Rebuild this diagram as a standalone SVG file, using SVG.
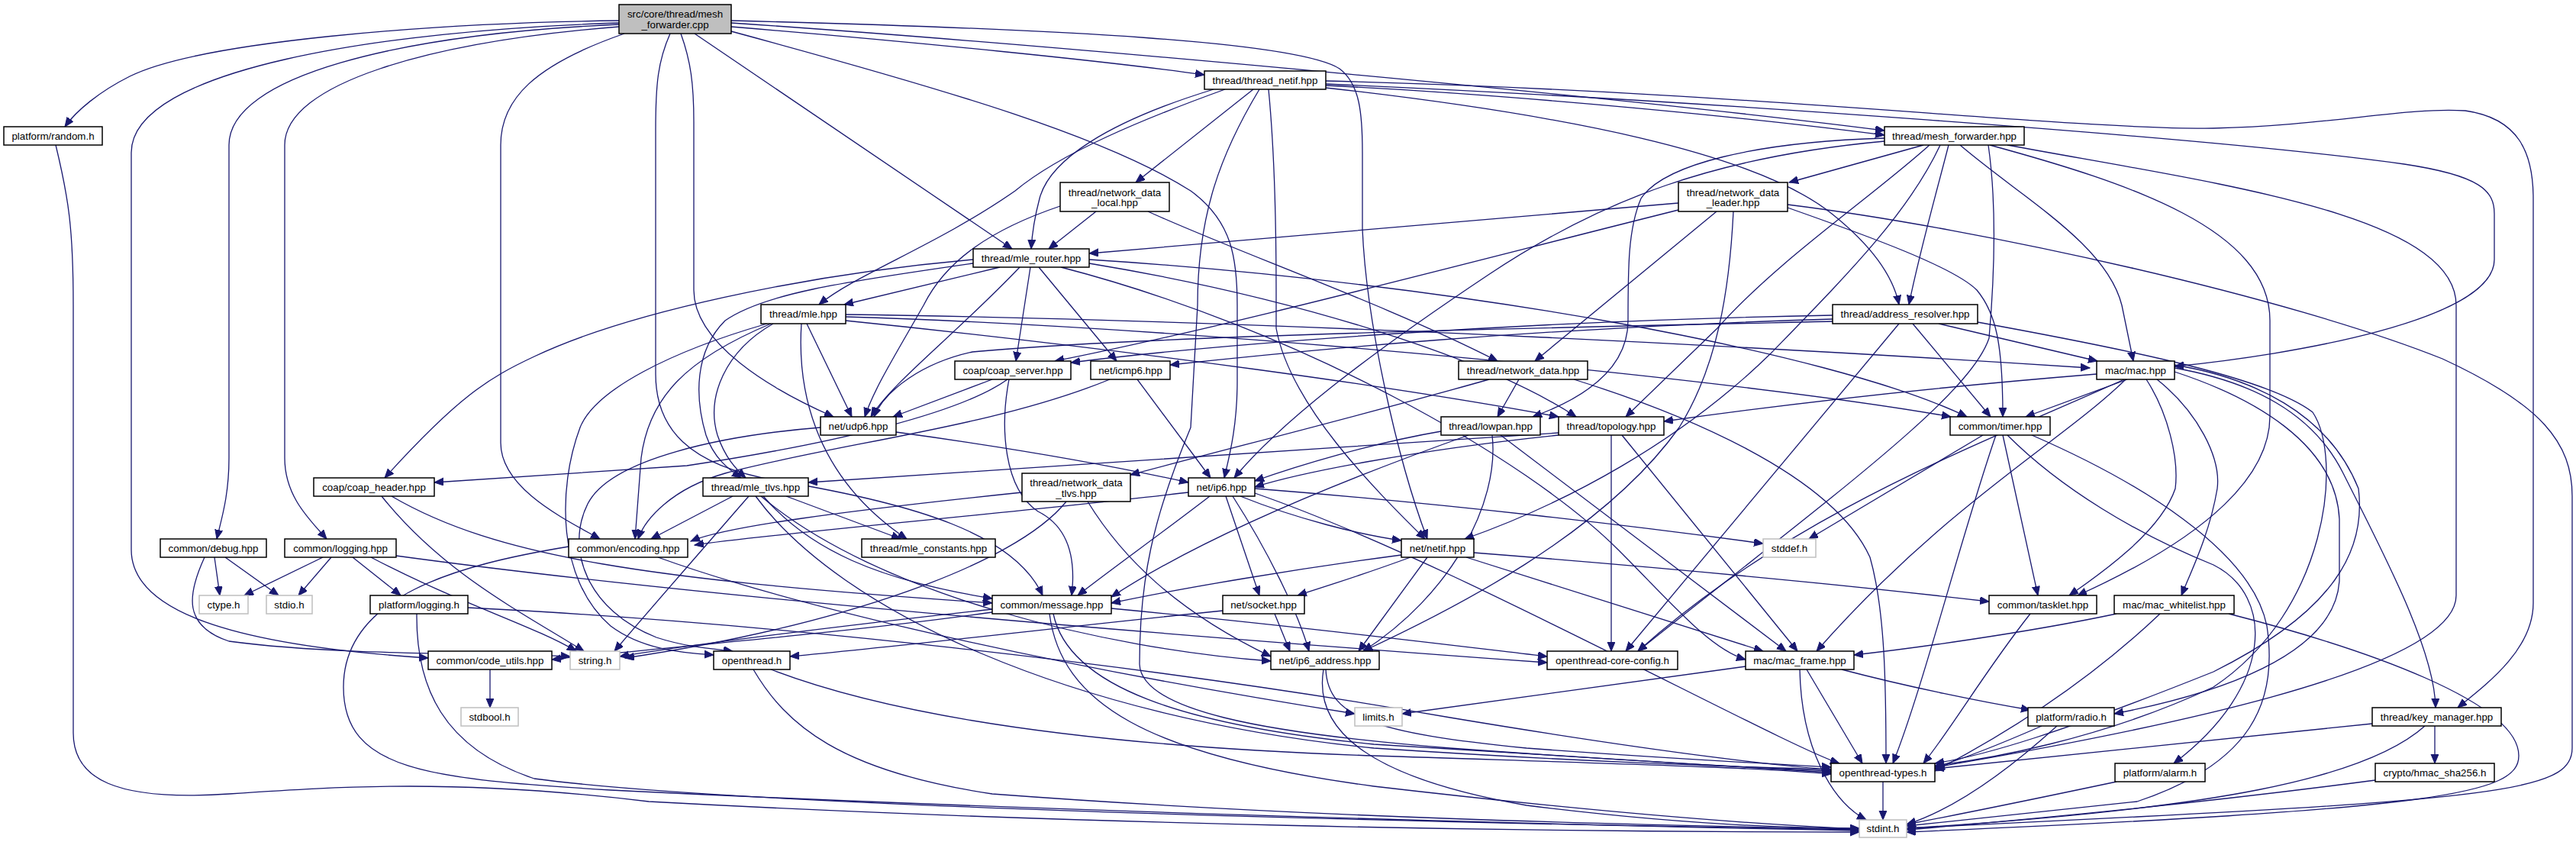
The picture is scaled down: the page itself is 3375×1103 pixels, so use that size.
<svg xmlns="http://www.w3.org/2000/svg" width="3375" height="1103" viewBox="0 0 3375 1103">
<style>
.n rect{fill:#ffffff;stroke:#000000;stroke-width:1.5}
.n.s rect{stroke:#bfbfbf}
.n.r rect{fill:#bfbfbf}
.n text{font-family:"Liberation Sans",Arial,Helvetica,sans-serif;font-size:13.33px;fill:#000000;text-anchor:middle}
.e path{fill:none;stroke:#191970;stroke-width:1.3;marker-end:url(#a)}
</style>
<defs>
<marker id="a" markerUnits="userSpaceOnUse" markerWidth="14" markerHeight="11" refX="12" refY="5" orient="auto"><path d="M0,0 L12,5 L0,10 z" fill="#191970" stroke="#191970" stroke-width="1"/></marker>
</defs>
<rect x="0" y="0" width="3375" height="1103" fill="#ffffff"/>
<g id="edges" class="e">
<path d="M811,27 C560,30 260,55 170,100 C130,120 100,145 85,166"/>
<path d="M811,30 C500,40 172,90 172,200 L172,720 C172,800 300,845 561,862"/>
<path d="M811,32 C520,45 300,100 300,190 L300,600 C300,650 290,680 284,706"/>
<path d="M811,35 C560,55 373,110 373,190 L373,600 C373,650 405,680 428,706"/>
<path d="M818,44 C700,85 656,130 656,190 L656,580 C656,640 740,680 786,706"/>
<path d="M878,44 C862,80 859,110 859,170 L859,490 C859,560 900,610 1020,630 C1200,660 1330,700 1366,780"/>
<path d="M892,44 C905,80 909,110 909,160 L909,380 C909,450 1010,510 1092,546"/>
<path d="M910,44 L1326,326"/>
<path d="M958,41 C1250,120 1450,180 1560,250 C1615,290 1621,340 1621,400 L1621,500 C1621,560 1610,600 1604,626"/>
<path d="M958,35 C1200,55 1450,80 1578,98"/>
<path d="M958,30 C1400,60 2150,130 2469,171"/>
<path d="M958,27 C1400,38 1700,55 1755,90 C1782,110 1785,150 1785,200 L1785,300 C1790,420 1830,600 1870,706"/>
<path d="M1605,117 C1500,155 1390,200 1330,250 C1230,320 1120,360 1073,399"/>
<path d="M1590,117 C1450,160 1375,210 1362,260 C1354,290 1352,310 1351,326"/>
<path d="M1642,117 L1488,239"/>
<path d="M1650,117 C1600,200 1569,280 1569,400 L1560,560 C1510,680 1493,760 1493,870 C1495,930 1650,960 1900,980 C2150,998 2300,1006 2399,1010"/>
<path d="M1662,117 C1670,200 1672,300 1672,380 L1672,430 C1690,530 1800,640 1867,706"/>
<path d="M1737,112 C2000,125 2300,155 2469,177"/>
<path d="M1737,106 C2300,120 2700,170 2900,168 C3050,165 3150,140 3230,145 C3300,155 3319,200 3319,260 L3319,790 C3319,850 3260,895 3220,927"/>
<path d="M1737,110 C2200,130 2900,180 3150,215 C3250,230 3268,250 3268,280 L3268,340 C3268,420 3000,465 2849,480"/>
<path d="M1737,115 C2050,150 2300,200 2400,280 C2450,320 2480,360 2488,399"/>
<path d="M2469,181 C2300,186 2180,215 2150,260 C2133,300 2133,350 2133,420 C2133,480 2080,520 2008,546"/>
<path d="M2469,185 C2250,205 2100,260 1950,360 C1800,460 1680,550 1617,626"/>
<path d="M2520,190 L2344,239"/>
<path d="M2528,190 C2450,260 2330,340 2250,430 L2130,546"/>
<path d="M2553,190 C2535,260 2515,330 2501,399"/>
<path d="M2568,190 C2650,260 2760,320 2780,400 L2795,473"/>
<path d="M2605,190 C2615,260 2615,340 2606,443 C2580,520 2400,650 2146,853"/>
<path d="M2607,190 C2790,240 2974,300 2974,420 L2974,545 C2974,620 2900,700 2722,780"/>
<path d="M2630,190 C2900,240 3218,280 3218,400 L3218,780 C3218,880 2800,960 2536,1005"/>
<path d="M2542,190 C2500,280 2420,360 2320,463 C2200,580 2050,660 1919,706"/>
<path d="M1436,277 L1374,326"/>
<path d="M1389,270 C1300,300 1240,340 1210,400 C1170,470 1145,510 1133,546"/>
<path d="M1504,277 C1620,330 1820,400 1962,473"/>
<path d="M2199,266 C1900,290 1600,318 1427,332"/>
<path d="M2199,275 C1900,350 1600,430 1382,473"/>
<path d="M2249,277 L2011,473"/>
<path d="M2271,277 C2266,380 2250,480 2200,560 C2100,700 1900,800 1786,853"/>
<path d="M2342,268 C2600,300 3000,390 3200,470 C3330,530 3370,580 3370,650 L3370,980 C3370,1030 3300,1045 2800,1070 L2498,1085"/>
<path d="M2342,272 C2450,310 2560,350 2590,380 C2615,410 2624,450 2624,546"/>
<path d="M1310,350 L1106,399"/>
<path d="M1275,340 C1050,360 820,410 700,467 C640,495 600,520 504,626"/>
<path d="M1275,345 C1100,370 1000,385 950,420 C910,460 910,520 925,570 C935,600 955,615 971,626"/>
<path d="M1336,350 C1250,440 1170,500 1141,546"/>
<path d="M1350,350 L1331,473"/>
<path d="M1361,350 L1463,473"/>
<path d="M1427,340 C1900,370 2400,460 2577,546"/>
<path d="M1427,345 C1700,390 1950,470 2065,546"/>
<path d="M1390,350 C1700,430 2000,600 2120,720 C2190,790 2240,850 2287,864"/>
<path d="M1010,424 C900,470 850,520 840,600 L832,706"/>
<path d="M1013,424 C950,460 925,520 940,570 C950,600 965,615 977,626"/>
<path d="M1050,424 C1045,500 1060,620 1188,706"/>
<path d="M1057,424 L1116,546"/>
<path d="M1005,424 C880,460 780,510 760,560 C730,640 730,760 800,820 C840,850 890,855 935,858"/>
<path d="M1108,412 C1700,420 2400,460 2738,482"/>
<path d="M1108,415 C1600,430 2300,500 2556,546"/>
<path d="M1108,420 C1500,460 1850,510 2042,546"/>
<path d="M1300,497 L1170,546"/>
<path d="M1320,497 C1260,540 1100,580 900,610 L569,632"/>
<path d="M1322,497 C1310,560 1315,640 1360,670 C1400,690 1410,730 1404,780"/>
<path d="M1454,497 C1300,560 1100,580 950,620 C880,640 845,680 836,706"/>
<path d="M1490,497 L1586,626"/>
<path d="M1174,566 C1350,590 1480,615 1557,632"/>
<path d="M1075,560 C950,570 800,600 770,660 C740,720 770,800 860,835 C900,848 935,850 960,853"/>
<path d="M960,650 L853,706"/>
<path d="M981,650 C920,720 850,800 805,853"/>
<path d="M1000,650 C1060,720 1150,760 1300,784"/>
<path d="M1030,650 L1180,706"/>
<path d="M990,650 C1100,800 1400,940 1800,980 C2100,1000 2300,1005 2399,1008"/>
<path d="M997,650 C1150,780 1450,850 1665,866"/>
<path d="M1339,645 C1100,670 950,690 905,709"/>
<path d="M1397,657 C1330,740 1100,820 819,862"/>
<path d="M1425,657 C1470,730 1540,800 1665,860"/>
<path d="M1557,645 C1300,675 1000,700 910,714"/>
<path d="M1585,650 C1520,700 1450,750 1412,780"/>
<path d="M1606,650 L1650,780"/>
<path d="M1615,650 C1660,720 1700,800 1715,853"/>
<path d="M1625,650 C1700,680 1780,700 1836,708"/>
<path d="M1644,640 C1900,660 2150,690 2310,712"/>
<path d="M1644,646 C1800,700 2000,800 2200,900 C2300,950 2380,990 2410,1000"/>
<path d="M1836,727 C1700,745 1550,770 1456,790"/>
<path d="M1848,730 C1780,755 1730,770 1700,780"/>
<path d="M1870,730 L1780,853"/>
<path d="M1921,730 L2310,853"/>
<path d="M1931,724 C2200,745 2450,770 2606,788"/>
<path d="M1602,800 C1400,820 1200,845 1035,860"/>
<path d="M1670,804 L1690,853"/>
<path d="M1300,798 C1100,820 900,845 812,860"/>
<path d="M1300,802 C1100,830 850,850 723,864"/>
<path d="M1456,797 C1700,820 1900,845 2027,860"/>
<path d="M1380,804 C1400,900 1550,950 1800,975 C2100,995 2300,1005 2399,1012"/>
<path d="M1375,804 C1390,920 1500,990 1800,1030 C2100,1065 2300,1080 2436,1086"/>
<path d="M862,730 C1000,780 1300,860 1775,935"/>
<path d="M745,716 C600,740 450,780 450,900 C450,1010 560,1020 800,1035 C1300,1060 2000,1080 2436,1088"/>
<path d="M987,877 C1030,950 1100,1010 1300,1040 C1700,1070 2100,1080 2436,1086"/>
<path d="M1010,877 C1200,950 1500,980 1800,990 C2100,1000 2300,1005 2399,1014"/>
<path d="M642,877 L642,927"/>
<path d="M423,730 L320,780"/>
<path d="M434,730 L391,780"/>
<path d="M462,730 L525,780"/>
<path d="M486,730 C600,790 700,820 755,853"/>
<path d="M519,728 C900,780 1500,830 2027,868"/>
<path d="M281,730 L288,780"/>
<path d="M295,730 L365,780"/>
<path d="M268,730 C245,780 240,820 300,840 C450,860 650,855 747,860"/>
<path d="M613,796 C1000,815 1500,870 1900,940 C2200,990 2350,1005 2399,1008"/>
<path d="M546,804 C545,900 580,980 700,1020 C1000,1060 2000,1080 2436,1087"/>
<path d="M500,650 C580,750 680,800 765,853"/>
<path d="M513,650 C650,730 850,760 1300,790"/>
<path d="M73,190 C90,260 96,300 96,400 L96,960 C96,1020 150,1050 300,1040 C450,1030 600,1020 850,1050 C1400,1080 2000,1090 2436,1090"/>
<path d="M1888,565 C1800,580 1700,610 1644,630"/>
<path d="M1955,570 C1965,660 1900,780 1786,853"/>
<path d="M1966,570 L2340,853"/>
<path d="M1924,570 C1700,650 1550,720 1456,782"/>
<path d="M2042,567 C1700,590 1300,615 1059,632"/>
<path d="M2042,570 C1850,590 1700,620 1644,638"/>
<path d="M2111,570 L2111,853"/>
<path d="M2125,570 L2355,853"/>
<path d="M2747,490 C2500,510 2300,535 2180,552"/>
<path d="M2787,497 L2654,546"/>
<path d="M2812,497 C2840,540 2855,600 2850,640 C2830,700 2740,760 2711,780"/>
<path d="M2826,497 C2880,540 2910,600 2905,640 C2895,700 2870,750 2858,780"/>
<path d="M2849,482 C2950,500 3030,540 3070,620 C3120,720 3190,850 3191,927"/>
<path d="M2849,487 C2950,520 3060,580 3065,680 L3065,760 C3060,860 2900,910 2770,935"/>
<path d="M2849,478 C2950,495 3050,540 3090,640 C3100,720 3060,800 2900,880 C2700,960 2600,990 2535,1000"/>
<path d="M2785,497 C2700,580 2550,660 2380,853"/>
<path d="M2783,497 C2600,580 2350,670 2146,853"/>
<path d="M2598,570 L2370,706"/>
<path d="M2615,570 C2570,700 2520,900 2480,1000"/>
<path d="M2624,570 L2670,780"/>
<path d="M2630,570 C2700,640 2800,700 2900,740 C2980,780 2980,900 2848,1000"/>
<path d="M2662,570 C2800,630 2950,720 2970,820 C2985,920 2950,1000 2800,1050 L2498,1082"/>
<path d="M2660,804 C2600,880 2560,950 2520,1000"/>
<path d="M2773,804 C2650,830 2500,850 2429,858"/>
<path d="M2830,804 C2750,880 2650,950 2535,1010"/>
<path d="M2920,804 C3100,850 3300,920 3300,990 C3300,1040 3200,1060 2498,1090"/>
<path d="M2287,873 C2100,900 1950,920 1837,935"/>
<path d="M2358,877 C2360,980 2400,1050 2445,1074"/>
<path d="M2367,877 L2440,1000"/>
<path d="M2413,877 C2500,900 2600,920 2660,930"/>
<path d="M1737,877 C1740,940 1800,960 2000,980 C2200,995 2350,1002 2399,1005"/>
<path d="M1734,877 C1720,960 1800,1020 2000,1055 C2200,1080 2350,1085 2436,1085"/>
<path d="M2675,951 C2620,975 2570,995 2535,1005"/>
<path d="M2695,951 C2630,1010 2560,1060 2498,1080"/>
<path d="M3108,948 C2900,970 2700,990 2535,1007"/>
<path d="M3177,951 C3100,1020 2900,1060 2498,1085"/>
<path d="M3190,951 L3190,1000"/>
<path d="M2773,1024 C2650,1050 2550,1070 2498,1080"/>
<path d="M3112,1022 C2900,1050 2700,1070 2498,1087"/>
<path d="M2467,1024 L2467,1074"/>
<path d="M2401,413 C2000,420 1600,450 1403,475"/>
<path d="M2401,418 C2000,430 1700,460 1533,478"/>
<path d="M2401,421 C2000,430 1500,440 1274,461 C1210,475 1160,510 1145,546"/>
<path d="M2540,424 L2748,473"/>
<path d="M2506,424 L2608,546"/>
<path d="M2488,424 L2130,853"/>
<path d="M2591,422 C2800,460 2973,496 3030,540 C3070,600 3050,800 2900,900 C2750,970 2600,995 2535,1003"/>
<path d="M1951,497 C1800,540 1600,590 1481,622"/>
<path d="M1990,497 L1962,546"/>
<path d="M2062,497 C2200,540 2400,620 2450,730 C2470,800 2471,900 2471,1000"/>
</g>
<g id="src" class="n r"><rect x="811" y="6" width="147" height="38"/><text x="884.5" y="23">src/core/thread/mesh</text><text x="884.5" y="37">_forwarder.cpp</text></g>
<g id="random" class="n"><rect x="5" y="166" width="129" height="24"/><text x="69.5" y="182.6">platform/random.h</text></g>
<g id="thread_netif" class="n"><rect x="1578" y="93" width="159" height="24"/><text x="1657.5" y="109.6">thread/thread_netif.hpp</text></g>
<g id="mesh_forwarder" class="n"><rect x="2469" y="166" width="183" height="24"/><text x="2560.5" y="182.6">thread/mesh_forwarder.hpp</text></g>
<g id="nd_local" class="n"><rect x="1389" y="239" width="143" height="38"/><text x="1460.5" y="256.5">thread/network_data</text><text x="1460.5" y="270">_local.hpp</text></g>
<g id="nd_leader" class="n"><rect x="2199" y="239" width="143" height="38"/><text x="2270.5" y="256.5">thread/network_data</text><text x="2270.5" y="270">_leader.hpp</text></g>
<g id="mle_router" class="n"><rect x="1275" y="326" width="152" height="24"/><text x="1351" y="342.6">thread/mle_router.hpp</text></g>
<g id="address_resolver" class="n"><rect x="2401" y="399" width="190" height="25"/><text x="2496" y="416.1">thread/address_resolver.hpp</text></g>
<g id="mle" class="n"><rect x="997" y="399" width="111" height="25"/><text x="1052.5" y="416.1">thread/mle.hpp</text></g>
<g id="coap_server" class="n"><rect x="1251" y="473" width="152" height="24"/><text x="1327" y="489.6">coap/coap_server.hpp</text></g>
<g id="icmp6" class="n"><rect x="1429" y="473" width="104" height="24"/><text x="1481" y="489.6">net/icmp6.hpp</text></g>
<g id="network_data" class="n"><rect x="1911" y="473" width="169" height="24"/><text x="1995.5" y="489.6">thread/network_data.hpp</text></g>
<g id="mac" class="n"><rect x="2747" y="473" width="102" height="24"/><text x="2798" y="489.6">mac/mac.hpp</text></g>
<g id="udp6" class="n"><rect x="1075" y="546" width="99" height="24"/><text x="1124.5" y="562.6">net/udp6.hpp</text></g>
<g id="lowpan" class="n"><rect x="1888" y="546" width="130" height="24"/><text x="1953" y="562.6">thread/lowpan.hpp</text></g>
<g id="topology" class="n"><rect x="2042" y="546" width="138" height="24"/><text x="2111" y="562.6">thread/topology.hpp</text></g>
<g id="timer" class="n"><rect x="2555" y="546" width="131" height="24"/><text x="2620.5" y="562.6">common/timer.hpp</text></g>
<g id="coap_header" class="n"><rect x="411" y="626" width="158" height="24"/><text x="490" y="642.6">coap/coap_header.hpp</text></g>
<g id="mle_tlvs" class="n"><rect x="921" y="626" width="138" height="24"/><text x="990" y="642.6">thread/mle_tlvs.hpp</text></g>
<g id="nd_tlvs" class="n"><rect x="1339" y="620" width="142" height="37"/><text x="1410" y="637">thread/network_data</text><text x="1410" y="650.5">_tlvs.hpp</text></g>
<g id="ip6" class="n"><rect x="1557" y="626" width="87" height="24"/><text x="1600.5" y="642.6">net/ip6.hpp</text></g>
<g id="debug" class="n"><rect x="210" y="706" width="139" height="24"/><text x="279.5" y="722.6">common/debug.hpp</text></g>
<g id="logging" class="n"><rect x="373" y="706" width="146" height="24"/><text x="446" y="722.6">common/logging.hpp</text></g>
<g id="encoding" class="n"><rect x="745" y="706" width="156" height="24"/><text x="823" y="722.6">common/encoding.hpp</text></g>
<g id="mle_constants" class="n"><rect x="1129" y="706" width="175" height="24"/><text x="1216.5" y="722.6">thread/mle_constants.hpp</text></g>
<g id="netif" class="n"><rect x="1836" y="706" width="95" height="24"/><text x="1883.5" y="722.6">net/netif.hpp</text></g>
<g id="stddef" class="n s"><rect x="2310" y="706" width="69" height="24"/><text x="2344.5" y="722.6">stddef.h</text></g>
<g id="tasklet" class="n"><rect x="2606" y="780" width="141" height="24"/><text x="2676.5" y="796.6">common/tasklet.hpp</text></g>
<g id="ctype" class="n s"><rect x="261" y="780" width="64" height="24"/><text x="293" y="796.6">ctype.h</text></g>
<g id="stdio" class="n s"><rect x="349" y="780" width="60" height="24"/><text x="379" y="796.6">stdio.h</text></g>
<g id="platform_logging" class="n"><rect x="485" y="780" width="128" height="24"/><text x="549" y="796.6">platform/logging.h</text></g>
<g id="message" class="n"><rect x="1300" y="780" width="156" height="24"/><text x="1378" y="796.6">common/message.hpp</text></g>
<g id="socket" class="n"><rect x="1602" y="780" width="107" height="24"/><text x="1655.5" y="796.6">net/socket.hpp</text></g>
<g id="mac_whitelist" class="n"><rect x="2770" y="780" width="157" height="24"/><text x="2848.5" y="796.6">mac/mac_whitelist.hpp</text></g>
<g id="code_utils" class="n"><rect x="561" y="853" width="162" height="24"/><text x="642" y="869.6">common/code_utils.hpp</text></g>
<g id="string_h" class="n s"><rect x="747" y="853" width="65" height="24"/><text x="779.5" y="869.6">string.h</text></g>
<g id="openthread_h" class="n"><rect x="935" y="853" width="100" height="24"/><text x="985" y="869.6">openthread.h</text></g>
<g id="ip6_address" class="n"><rect x="1665" y="853" width="142" height="24"/><text x="1736" y="869.6">net/ip6_address.hpp</text></g>
<g id="core_config" class="n"><rect x="2027" y="853" width="171" height="24"/><text x="2112.5" y="869.6">openthread-core-config.h</text></g>
<g id="mac_frame" class="n"><rect x="2287" y="853" width="142" height="24"/><text x="2358" y="869.6">mac/mac_frame.hpp</text></g>
<g id="stdbool" class="n s"><rect x="604" y="927" width="75" height="24"/><text x="641.5" y="943.6">stdbool.h</text></g>
<g id="limits" class="n s"><rect x="1775" y="927" width="62" height="24"/><text x="1806" y="943.6">limits.h</text></g>
<g id="radio" class="n"><rect x="2657" y="927" width="113" height="24"/><text x="2713.5" y="943.6">platform/radio.h</text></g>
<g id="key_manager" class="n"><rect x="3108" y="927" width="169" height="24"/><text x="3192.5" y="943.6">thread/key_manager.hpp</text></g>
<g id="ot_types" class="n"><rect x="2399" y="1000" width="136" height="24"/><text x="2467" y="1016.6">openthread-types.h</text></g>
<g id="alarm" class="n"><rect x="2771" y="1000" width="118" height="24"/><text x="2830" y="1016.6">platform/alarm.h</text></g>
<g id="hmac" class="n"><rect x="3112" y="1000" width="156" height="24"/><text x="3190" y="1016.6">crypto/hmac_sha256.h</text></g>
<g id="stdint" class="n s"><rect x="2436" y="1074" width="62" height="23"/><text x="2467" y="1090">stdint.h</text></g>
</svg>
